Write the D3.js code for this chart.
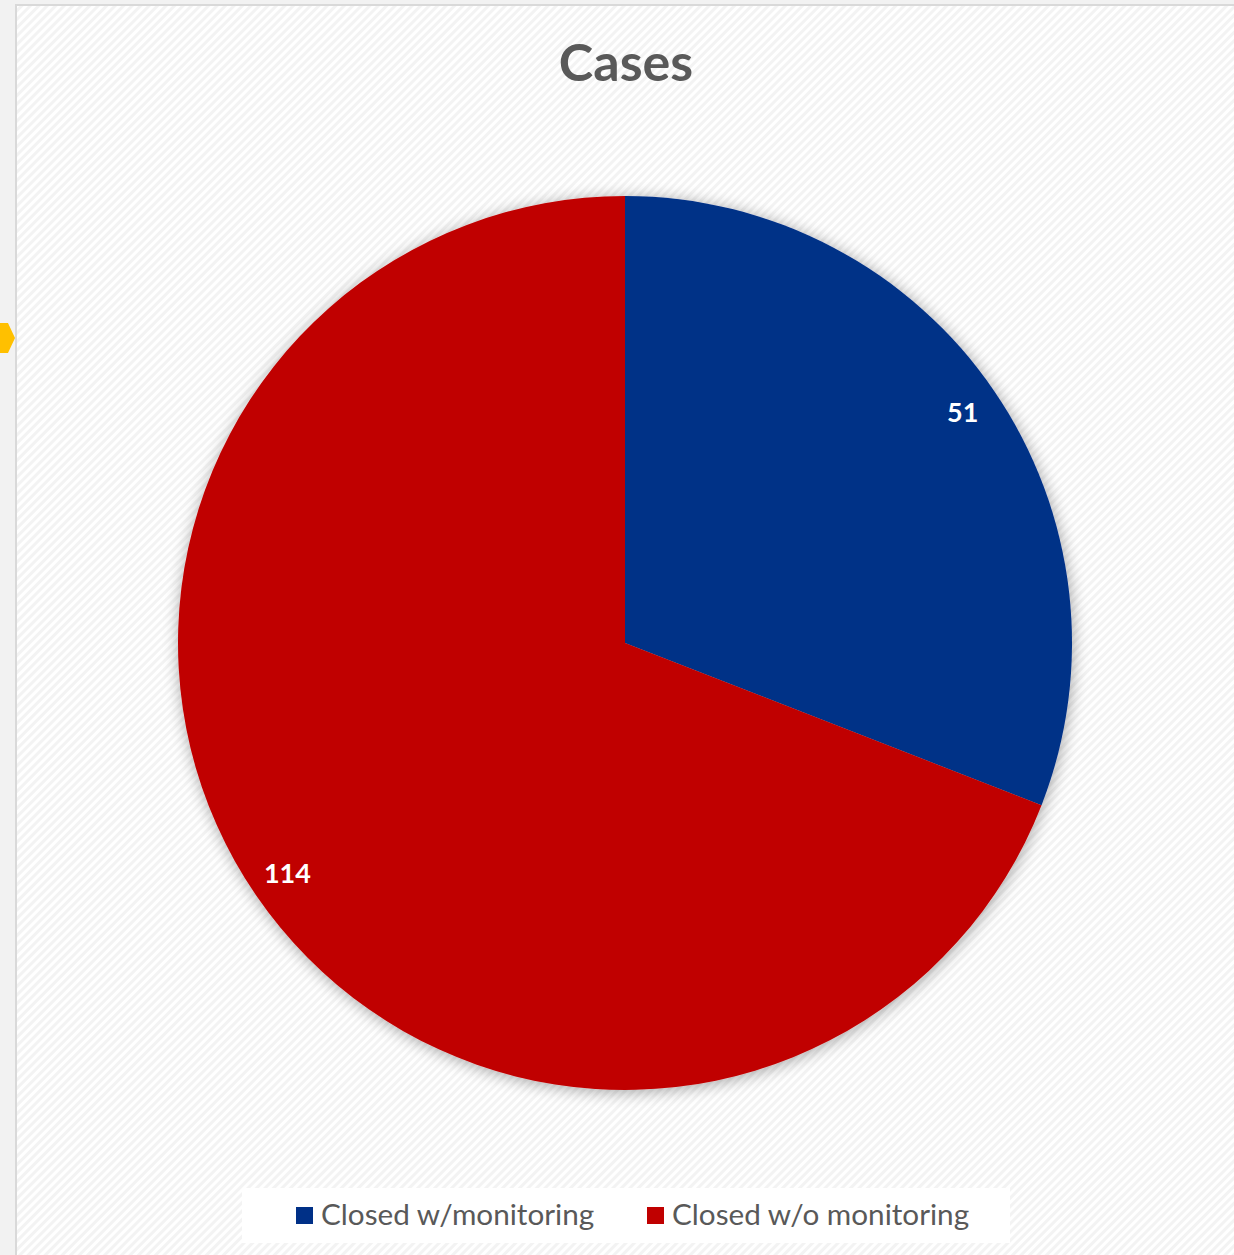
<!DOCTYPE html>
<html>
<head>
<meta charset="utf-8">
<script src="https://cdn.jsdelivr.net/npm/d3@7"></script>
<style>
  body { margin: 0; background: #f2f2f2; }
  svg { display: block; }
</style>
</head>
<body>
<script>
// chart data
var categories = ["Closed w/monitoring", "Closed w/o monitoring"];
var values = [51, 114];
var colors = ["#003087", "#c00000"];
var title = "Cases";

var w = 1234;
var h = 1255;
var cx = 625, cy = 643, radius = 447;

var svg = d3.select("body").append("svg").attr("width", w).attr("height", h);
var defs = svg.append("defs");

// diagonal hatch background
var pat = defs.append("pattern")
  .attr("id", "hatch")
  .attr("patternUnits", "userSpaceOnUse")
  .attr("width", 6).attr("height", 6)
  .attr("patternTransform", "rotate(45)");
pat.append("rect").attr("width", 6).attr("height", 6).attr("fill", "#ffffff");
pat.append("rect").attr("width", 3).attr("height", 6).attr("fill", "#f3f3f3");

// soft shadow round the pie
var f = defs.append("filter").attr("id", "shadow")
  .attr("x", "-10%").attr("y", "-10%").attr("width", "120%").attr("height", "120%");
f.append("feGaussianBlur").attr("in", "SourceAlpha").attr("stdDeviation", 8).attr("result", "b");
f.append("feOffset").attr("in", "b").attr("dx", 1).attr("dy", 2).attr("result", "o");
f.append("feComponentTransfer").attr("in", "o").attr("result", "s")
  .append("feFuncA").attr("type", "linear").attr("slope", 0.35);
var fm = f.append("feMerge");
fm.append("feMergeNode").attr("in", "s");
fm.append("feMergeNode").attr("in", "SourceGraphic");

// chart area with border
svg.append("rect")
  .attr("x", 16).attr("y", 5)
  .attr("width", w).attr("height", h)
  .attr("fill", "url(#hatch)")
  .attr("stroke", "#d9d9d9").attr("stroke-width", 2);

// yellow selection handle at the left edge
svg.append("polygon")
  .attr("points", "-4,323 8,323 15,338 8,353 -4,353")
  .attr("fill", "#ffc000");

// title
svg.append("text")
  .attr("x", cx + 1).attr("y", 81)
  .attr("text-anchor", "middle")
  .attr("font-family", "Lato, 'Open Sans', sans-serif")
  .attr("font-weight", "bold")
  .attr("font-size", 52)
  .attr("fill", "#595959")
  .text(title);

var data = categories.map(function (c, i) {
  return { name: c, value: values[i], color: colors[i] };
});

var pie = d3.pie().sort(null).value(function (d) { return d.value; });
var arc = d3.arc().innerRadius(0).outerRadius(radius);
var labelArc = d3.arc().innerRadius(radius * 0.915).outerRadius(radius * 0.915);

var g = svg.append("g").attr("transform", "translate(" + cx + "," + cy + ")");

g.append("g").attr("filter", "url(#shadow)")
  .selectAll("path")
  .data(pie(data))
  .enter()
  .append("path")
  .attr("d", arc)
  .attr("fill", function (d) { return d.data.color; });

g.selectAll("text.lbl")
  .data(pie(data))
  .enter()
  .append("text")
  .attr("class", "lbl")
  .attr("transform", function (d) { return "translate(" + labelArc.centroid(d) + ")"; })
  .attr("dy", "0.35em")
  .attr("text-anchor", "middle")
  .attr("font-family", "Lato, 'Open Sans', sans-serif")
  .attr("font-weight", "bold")
  .attr("font-size", 27)
  .attr("fill", "#ffffff")
  .text(function (d) { return d.data.value; });

// legend
var legend = svg.append("g");
legend.append("rect")
  .attr("x", 242).attr("y", 1188)
  .attr("width", 768).attr("height", 55)
  .attr("fill", "#ffffff");

var legendX = [296, 647];
var items = legend.selectAll("g.item")
  .data(data)
  .enter()
  .append("g")
  .attr("class", "item")
  .attr("transform", function (d, i) { return "translate(" + legendX[i] + ",1207)"; });

items.append("rect")
  .attr("width", 17).attr("height", 17)
  .attr("fill", function (d) { return d.color; });

items.append("text")
  .attr("x", 25).attr("y", 18)
  .attr("font-family", "Lato, 'Open Sans', sans-serif")
  .attr("font-size", 29.7)
  .attr("fill", "#595959")
  .text(function (d) { return d.name; });
</script>
</body>
</html>
